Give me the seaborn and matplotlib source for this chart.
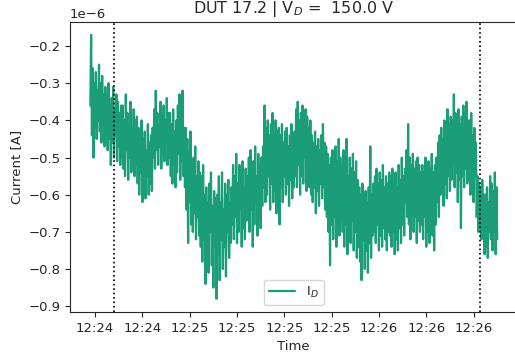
import matplotlib
matplotlib.use("Agg")
import matplotlib.pyplot as plt
import matplotlib.dates as mdates
import matplotlib.ticker as mticker
import numpy as np
import pandas as pd
import seaborn as sns

# Drain current readings (in units of 1e-6 A), sampled every 0.25 s
start_time = "2023-01-01 12:24:28.5"
sample_period = "250ms"
current_uA = [
    -0.36, -0.17, -0.44, -0.26, -0.50, -0.30, -0.42, -0.27, -0.45, -0.32, -0.40, -0.25, -0.43, -0.30, -0.46, -0.28, -0.41, -0.33, -0.47, -0.31,
    -0.44, -0.33, -0.48, -0.30, -0.45, -0.36, -0.52, -0.34, -0.46, -0.31, -0.50, -0.37, -0.44, -0.33, -0.51, -0.35, -0.47, -0.38, -0.52, -0.36,
    -0.50, -0.36, -0.53, -0.40, -0.55, -0.33, -0.48, -0.38, -0.56, -0.41, -0.50, -0.35, -0.54, -0.42, -0.49, -0.37, -0.55, -0.40, -0.52, -0.39,
    -0.57, -0.42, -0.60, -0.46, -0.54, -0.40, -0.62, -0.45, -0.58, -0.43, -0.61, -0.48, -0.55, -0.41, -0.60, -0.46, -0.57, -0.44, -0.59, -0.42,
    -0.50, -0.37, -0.53, -0.32, -0.48, -0.38, -0.52, -0.41, -0.47, -0.35, -0.53, -0.39, -0.49, -0.36, -0.51, -0.40, -0.46, -0.34, -0.52, -0.38,
    -0.50, -0.38, -0.55, -0.41, -0.57, -0.37, -0.52, -0.43, -0.58, -0.40, -0.54, -0.36, -0.49, -0.33, -0.56, -0.39, -0.51, -0.32, -0.55, -0.42,
    -0.58, -0.42, -0.64, -0.45, -0.73, -0.48, -0.62, -0.43, -0.68, -0.52, -0.70, -0.50, -0.65, -0.47, -0.72, -0.55, -0.66, -0.51, -0.71, -0.54,
    -0.74, -0.55, -0.78, -0.52, -0.72, -0.60, -0.84, -0.58, -0.76, -0.62, -0.81, -0.57, -0.70, -0.54, -0.79, -0.63, -0.85, -0.59, -0.74, -0.61,
    -0.88, -0.60, -0.76, -0.55, -0.83, -0.62, -0.72, -0.54, -0.80, -0.64, -0.74, -0.57, -0.82, -0.60, -0.70, -0.56, -0.77, -0.62, -0.73, -0.58,
    -0.68, -0.52, -0.72, -0.55, -0.66, -0.49, -0.73, -0.57, -0.70, -0.52, -0.64, -0.56, -0.74, -0.51, -0.69, -0.58, -0.72, -0.53, -0.67, -0.55,
    -0.66, -0.50, -0.70, -0.48, -0.64, -0.53, -0.74, -0.51, -0.68, -0.47, -0.62, -0.55, -0.71, -0.49, -0.66, -0.52, -0.69, -0.50, -0.63, -0.47,
    -0.58, -0.36, -0.62, -0.42, -0.60, -0.40, -0.55, -0.44, -0.64, -0.41, -0.57, -0.38, -0.62, -0.45, -0.59, -0.40, -0.65, -0.43, -0.56, -0.42,
    -0.68, -0.44, -0.58, -0.41, -0.62, -0.46, -0.55, -0.43, -0.60, -0.42, -0.57, -0.47, -0.63, -0.44, -0.56, -0.41, -0.61, -0.45, -0.58, -0.43,
    -0.55, -0.37, -0.58, -0.35, -0.52, -0.40, -0.60, -0.38, -0.55, -0.36, -0.57, -0.41, -0.50, -0.37, -0.59, -0.39, -0.54, -0.42, -0.58, -0.40,
    -0.60, -0.44, -0.62, -0.46, -0.58, -0.43, -0.65, -0.47, -0.59, -0.45, -0.63, -0.48, -0.57, -0.44, -0.61, -0.41, -0.58, -0.46, -0.64, -0.47,
    -0.66, -0.49, -0.70, -0.52, -0.79, -0.50, -0.68, -0.48, -0.72, -0.53, -0.66, -0.47, -0.74, -0.51, -0.69, -0.45, -0.71, -0.50, -0.67, -0.52,
    -0.70, -0.48, -0.74, -0.52, -0.68, -0.45, -0.76, -0.55, -0.71, -0.50, -0.73, -0.53, -0.67, -0.49, -0.75, -0.54, -0.70, -0.51, -0.77, -0.56,
    -0.74, -0.58, -0.78, -0.60, -0.83, -0.57, -0.72, -0.61, -0.80, -0.59, -0.75, -0.62, -0.81, -0.58, -0.73, -0.47, -0.77, -0.60, -0.71, -0.57,
    -0.70, -0.55, -0.73, -0.53, -0.68, -0.57, -0.75, -0.54, -0.71, -0.56, -0.74, -0.52, -0.69, -0.58, -0.72, -0.55, -0.75, -0.57, -0.70, -0.54,
    -0.71, -0.55, -0.74, -0.53, -0.70, -0.57, -0.76, -0.54, -0.72, -0.58, -0.75, -0.52, -0.69, -0.56, -0.73, -0.50, -0.68, -0.55, -0.71, -0.53,
    -0.62, -0.48, -0.66, -0.41, -0.68, -0.50, -0.72, -0.52, -0.65, -0.49, -0.70, -0.53, -0.66, -0.51, -0.73, -0.50, -0.67, -0.52, -0.70, -0.54,
    -0.68, -0.52, -0.72, -0.54, -0.66, -0.50, -0.74, -0.55, -0.70, -0.51, -0.73, -0.53, -0.67, -0.49, -0.71, -0.54, -0.75, -0.52, -0.68, -0.50,
    -0.62, -0.46, -0.66, -0.44, -0.60, -0.42, -0.58, -0.45, -0.63, -0.40, -0.57, -0.43, -0.61, -0.37, -0.55, -0.41, -0.59, -0.39, -0.56, -0.40,
    -0.52, -0.33, -0.58, -0.38, -0.54, -0.40, -0.62, -0.37, -0.56, -0.41, -0.69, -0.39, -0.55, -0.36, -0.58, -0.38, -0.53, -0.35, -0.57, -0.40,
    -0.56, -0.40, -0.60, -0.38, -0.58, -0.44, -0.62, -0.42, -0.55, -0.46, -0.66, -0.55, -0.70, -0.57, -0.68, -0.58, -0.72, -0.56, -0.70, -0.60,
    -0.76, -0.60, -0.74, -0.58, -0.77, -0.62, -0.70, -0.55, -0.72, -0.57, -0.75, -0.59, -0.70, -0.54, -0.76, -0.58, -0.72,
]

# Window boundaries marked on the trace
markers = ["2023-01-01 12:24:36", "2023-01-01 12:26:32"]

dut_name = "DUT 17.2"
drain_voltage = 150.0

df = pd.DataFrame({
    "Time": pd.date_range(start_time, periods=len(current_uA), freq=sample_period),
    "Current": np.array(current_uA) * 1e-6,
})

sns.set_style("ticks")
plt.rcParams["font.family"] = ["DejaVu Sans"]
plt.rcParams["font.size"] = 9.5

fig = plt.figure(figsize=(5.15, 3.58), dpi=100)
ax = fig.add_axes([0.1359, 0.1285, 0.8691, 0.8109])

sns.lineplot(data=df, x="Time", y="Current", color="#1b9e77", linewidth=1.6,
             label="I$_D$", ax=ax)

for m in markers:
    ax.axvline(pd.Timestamp(m), color="k", linestyle=":", linewidth=1.2)

ax.xaxis.set_major_locator(mdates.SecondLocator(bysecond=[0, 15, 30, 45]))
ax.xaxis.set_major_formatter(mdates.DateFormatter("%H:%M"))

yfmt = mticker.ScalarFormatter()
yfmt.set_powerlimits((-6, -6))
ax.yaxis.set_major_formatter(yfmt)

ax.set_xlabel("Time", fontsize=9.5)
ax.set_ylabel("Current [A]", fontsize=9.5)
ax.set_title(f"{dut_name} | V$_D$ =  {drain_voltage} V", fontsize=11.5)
ax.tick_params(labelsize=9.5)
ax.legend(loc="lower center", fontsize=9.5)

fig.savefig("out.png", dpi=100)
